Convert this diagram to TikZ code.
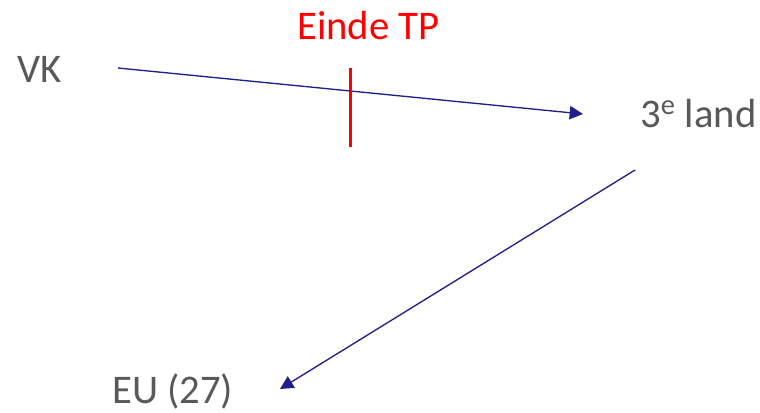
\documentclass[tikz,border=0pt]{standalone}
\usepackage{fontspec}
\setmainfont{Carlito}
\usetikzlibrary{arrows.meta}
\definecolor{landgrey}{RGB}{89,89,89}
\definecolor{pijlblauw}{RGB}{32,30,138}
\begin{document}
\begin{tikzpicture}[x=0.75pt,y=-0.75pt,
		land/.style={anchor=base west,inner sep=0pt,text=landgrey,font=\fontsize{30.5}{36}\selectfont},
		pijl/.style={draw=pijlblauw,line width=1pt,-{Triangle[length=10pt,width=10pt]}}]
		
		\useasboundingbox (0,0) rectangle (760,412);
		
		\node[land] (vk) at (17,82) {VK};
		\node[land] (derde) at (640,127) {3\textsuperscript{e} land};
		\node[land] (eu) at (112,403) {EU (27)};
		\node[land,text=red] (tp) at (297,39) {Einde TP};
		
		\coordinate (vkuit) at (118,68);
		\coordinate (derdein) at (583,114);
		\coordinate (derdeuit) at (635,170);
		\coordinate (euin) at (280,389);
		\coordinate (tpboven) at (350.5,68);
		\coordinate (tponder) at (350.5,147);
		
		\draw[pijl] (vkuit) -- (derdein);
		\draw[pijl] (derdeuit) -- (euin);
		
		\draw[red,line width=1.6pt] (tpboven) -- (tponder);
		
	\end{tikzpicture}
\end{document}
